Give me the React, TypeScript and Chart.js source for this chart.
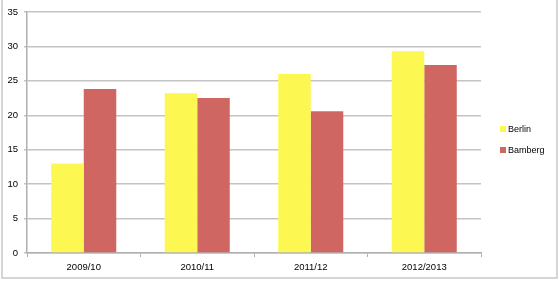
import React, { useEffect, useRef } from "react";
import { Chart, registerables } from "chart.js";

Chart.register(...registerables);

const categories = ["2009/10", "2010/11", "2011/12", "2012/2013"];
const berlin = [13.0, 23.2, 26.0, 29.3];
const bamberg = [23.8, 22.5, 20.6, 27.3];
const seriesNames = ["Berlin", "Bamberg"];
const seriesColors = ["#FDF751", "#D06662"];

const FONT = "'Liberation Sans', Arial, sans-serif";

const framePlugin = {
  id: "frame",
  afterDraw(chart: any) {
    const ctx = chart.ctx;
    ctx.save();
    ctx.strokeStyle = "#c8c8c8";
    ctx.lineWidth = 1.5;
    ctx.beginPath();
    ctx.moveTo(2, 0);
    ctx.lineTo(2, 278);
    ctx.lineTo(557, 278);
    ctx.lineTo(557, 0);
    ctx.stroke();
    // legend
    const items = chart.data.datasets;
    const x = 500;
    const ys = [129, 150];
    ctx.font = "9px " + FONT;
    ctx.textBaseline = "middle";
    ctx.textAlign = "left";
    items.forEach((ds: any, i: number) => {
      ctx.fillStyle = ds.backgroundColor;
      ctx.fillRect(x, ys[i] - 3, 6, 6);
      ctx.fillStyle = "#000";
      ctx.fillText(ds.label, x + 8, ys[i] + 0.5);
    });
    ctx.restore();
  },
};

export default function App() {
  const ref = useRef<HTMLCanvasElement>(null);
  useEffect(() => {
    if (!ref.current) return;
    const chart = new Chart(ref.current, {
      type: "bar",
      data: {
        labels: categories,
        datasets: [
          { label: seriesNames[0], data: berlin, backgroundColor: seriesColors[0] },
          { label: seriesNames[1], data: bamberg, backgroundColor: seriesColors[1] },
        ],
      },
      options: {
        animation: false,
        responsive: false,
        devicePixelRatio: 1,
        layout: { padding: { left: 0, top: 12, right: 78, bottom: 0 } },
        plugins: { legend: { display: false }, tooltip: { enabled: false } },
        datasets: { bar: { categoryPercentage: 0.573, barPercentage: 1 } },
        scales: {
          x: {
            afterFit: (s: any) => { s.height = 28; },
            grid: {
              offset: true,
              drawOnChartArea: false,
              tickLength: 4,
              color: "#b0b0b0",
              lineWidth: 1,
            },
            border: { color: "#b0b0b0", width: 1.5 },
            ticks: { color: "#000", font: { family: FONT, size: 9.5 }, padding: 5 },
          },
          y: {
            min: 0,
            max: 35,
            afterFit: (s: any) => { s.width = 27; },
            ticks: { stepSize: 5, color: "#000", font: { family: FONT, size: 9.5 }, padding: 6 },
            grid: { color: "#c4c4c4", lineWidth: 1.5, tickLength: 3 },
            border: { color: "#b0b0b0", width: 1.5 },
          },
        },
      },
      plugins: [framePlugin],
    });
    return () => chart.destroy();
  }, []);
  return (
    <div style={{ position: "absolute", left: 0, top: 0, width: 559, height: 281, background: "#fff" }}>
      <canvas ref={ref} width={559} height={281} style={{ display: "block" }} />
    </div>
  );
}
